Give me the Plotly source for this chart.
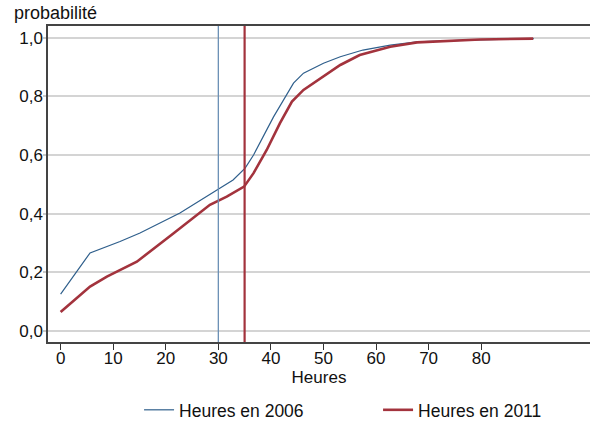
import plotly.graph_objects as go

# Cumulative distribution of weekly hours
hours_2006 = [0, 5.6, 11.3, 15.1, 22.7, 27.8, 30.0, 32.8, 35.1, 36.7, 40.5, 44.3, 46.2, 50.0, 53.2, 57.5, 62.7, 67.8, 77.3, 90.0]
prob_2006 = [0.125, 0.266, 0.305, 0.334, 0.402, 0.458, 0.483, 0.515, 0.555, 0.600, 0.730, 0.845, 0.879, 0.913, 0.935, 0.958, 0.975, 0.986, 0.992, 0.997]

hours_2011 = [0, 5.6, 8.8, 14.5, 21.5, 28.4, 31.6, 34.9, 36.7, 39.2, 41.7, 44.0, 46.2, 53.2, 56.9, 62.7, 67.8, 79.8, 89.9]
prob_2011 = [0.064, 0.151, 0.185, 0.236, 0.333, 0.430, 0.458, 0.492, 0.538, 0.617, 0.708, 0.782, 0.822, 0.907, 0.941, 0.969, 0.984, 0.994, 0.997]

# Mean hours (vertical reference lines)
mean_2006 = 30
mean_2011 = 35

x_ticks = [0, 10, 20, 30, 40, 50, 60, 70, 80]
y_ticks = [0.0, 0.2, 0.4, 0.6, 0.8, 1.0]

blue = "#2f5f8c"
red = "#a3333d"

fig = go.Figure()
fig.add_trace(go.Scatter(x=hours_2006, y=prob_2006, mode="lines", name="Heures en 2006",
                         line=dict(color=blue, width=1.2)))
fig.add_trace(go.Scatter(x=hours_2011, y=prob_2011, mode="lines", name="Heures en 2011",
                         line=dict(color=red, width=2.6)))

fig.add_shape(type="line", xref="x", yref="paper", x0=mean_2006, x1=mean_2006, y0=0, y1=1,
              line=dict(color="#6a8fb5", width=1.3), layer="above")
fig.add_shape(type="line", xref="x", yref="paper", x0=mean_2011, x1=mean_2011, y0=0, y1=1,
              line=dict(color=red, width=2.2), layer="above")

fig.add_annotation(text="probabilité", xref="paper", yref="paper", x=-0.066, y=1.0,
                   xanchor="left", yanchor="bottom", yshift=1, showarrow=False,
                   font=dict(size=18, color="#111111"))

fig.update_layout(
    width=592, height=424,
    margin=dict(l=48, r=2, t=26, b=82, autoexpand=False),
    paper_bgcolor="white", plot_bgcolor="white",
    separators=", ",
    font=dict(family="Liberation Sans, Arial, sans-serif", size=17, color="#111111"),
    showlegend=True,
    legend=dict(orientation="h", x=0.168, xanchor="left", y=-0.215, yanchor="middle",
                font=dict(size=17.5), itemwidth=30, entrywidth=194, entrywidthmode="pixels"),
    xaxis=dict(range=[-2.4, 100.7], tickvals=x_ticks, showgrid=False, zeroline=False,
               showline=True, linecolor="#444444", linewidth=1.5, mirror=True,
               ticks="outside", ticklen=6, tickcolor="#333333", tickwidth=1.2,
               automargin=False, ticklabelstandoff=-6,
               title=dict(text="Heures", standoff=3, font=dict(size=17))),
    yaxis=dict(range=[-0.038, 1.04], tickvals=y_ticks, tickformat=".1f",
               showgrid=True, gridcolor="#d4d4d4", gridwidth=2, zeroline=False,
               showline=True, linecolor="#444444", linewidth=1.5, automargin=False,
               ticks="outside", ticklen=3, tickcolor="#c8c8c8", tickwidth=2,
               ticklabelstandoff=-3),
)

fig.write_html("out.html", config={"displayModeBar": False},
               post_script="document.body.style.margin='0px';")
